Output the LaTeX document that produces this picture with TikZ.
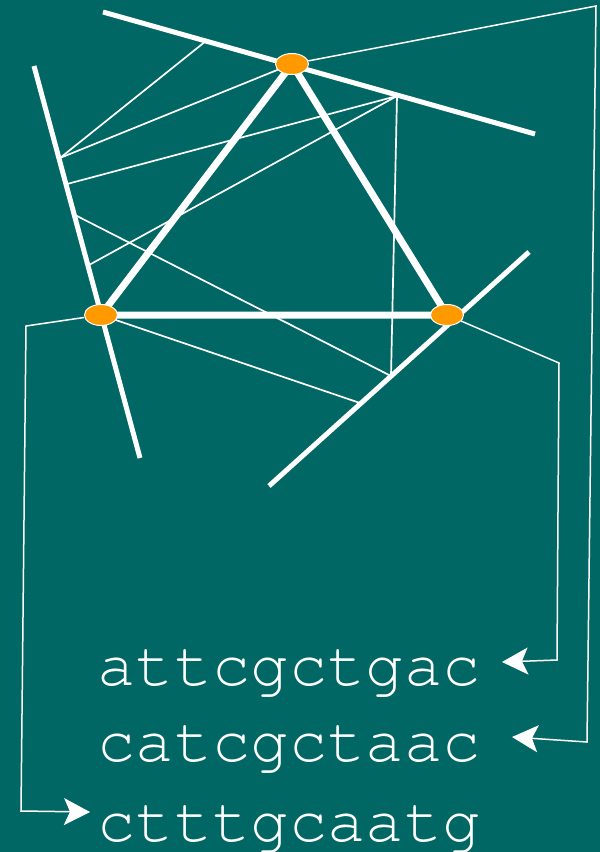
\documentclass[tikz,border=0pt]{standalone}
\usepackage{fontspec}
\newfontfamily\seqfont{TeX Gyre Cursor}
\usetikzlibrary{shapes.geometric,arrows.meta}
\definecolor{tealbg}{RGB}{0,103,100}
\definecolor{sitecol}{RGB}{255,153,0}

\begin{document}
\begin{tikzpicture}[x=1pt,y=-1pt,
  fibre/.style={white,line width=5pt},
  bond/.style={white,line width=7pt,line join=round},
  strand/.style={white,line width=1.7pt},
  site/.style={ellipse,fill=sitecol,draw=white,line width=1pt,minimum width=33pt,minimum height=21pt,inner sep=0pt},
  seq/.style={anchor=base west,inner sep=0pt,text=white,font={\seqfont\fontsize{64pt}{64pt}\selectfont}},
  link/.style={white,line width=1.5pt,-{Stealth[length=26pt,width=27pt,inset=6pt]}}]
\fill[tealbg] (0,0) rectangle (600,852);
\useasboundingbox (0,0) rectangle (600,852);

\coordinate (f1a) at (103,12);
\coordinate (f1b) at (535,134);
\coordinate (f2a) at (34,66);
\coordinate (f2b) at (140,458);
\coordinate (f3a) at (529,252);
\coordinate (f3b) at (269,486);

\coordinate (ctop) at (292,64);
\coordinate (cleft) at (101,315);
\coordinate (cright) at (447,315);

\coordinate (p1) at (206,41);
\coordinate (p2) at (60,158);
\coordinate (p3) at (397,96);
\coordinate (p4) at (67,184);
\coordinate (p5) at (89,265);
\coordinate (p6) at (75,215);
\coordinate (p7) at (391,376);
\coordinate (p8) at (360,403);

\draw[strand] (p1) -- (p2);
\draw[strand] (ctop) -- (p2);
\draw[strand] (p3) -- (p4);
\draw[strand] (p3) -- (p5);
\draw[strand] (p3) -- (p7);
\draw[strand] (p6) -- (p7);
\draw[strand] (cleft) -- (p8);

\draw[fibre] (f1a) -- (f1b);
\draw[fibre] (f2a) -- (f2b);
\draw[fibre] (f3a) -- (f3b);

\draw[bond] (ctop) -- (cleft) -- (cright) -- cycle;

\node[site] (top) at (ctop) {};
\node[site] (left) at (cleft) {};
\node[site] (right) at (cright) {};

\node[seq] (s1) at (97,685) {attcgctgac};
\node[seq] (s2) at (97,761) {catcgctaac};
\node[seq] (s3) at (97,841) {ctttgcaatg};

\coordinate (t1) at (502,662);
\coordinate (t2) at (512,737);
\coordinate (t3) at (90,812);

\draw[link] (right) -- (559,363) -- (557,660) -- (t1);
\draw[link] (top) -- (596,6) -- (587,742) -- (t2);
\draw[link] (left) -- (26,326) -- (21,811) -- (t3);
\end{tikzpicture}
\end{document}
